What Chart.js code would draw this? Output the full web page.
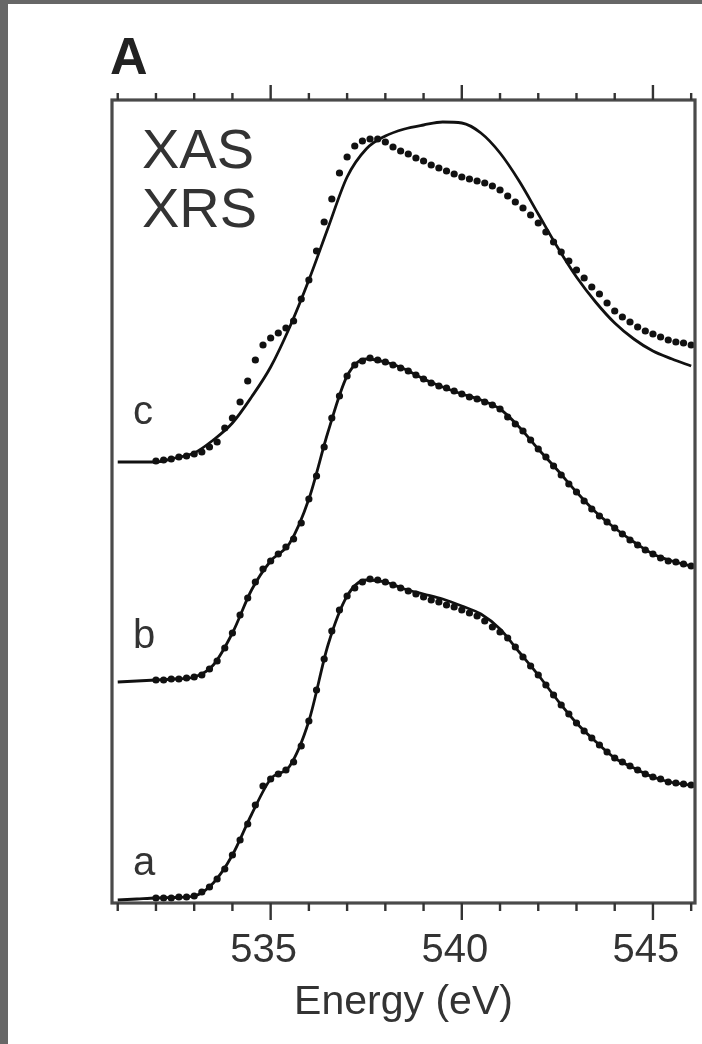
<!DOCTYPE html>
<html><head><meta charset="utf-8">
<script src="https://cdn.jsdelivr.net/npm/chart.js@4"></script>
<style>
html,body{margin:0;padding:0;background:#fff;}
#wrap{position:relative;width:702px;height:1044px;overflow:hidden;background:#fff;}
#chart{position:absolute;left:0;top:0;}
.strip{position:absolute;background:#676767;}
</style></head>
<body><div id="wrap"><canvas id="chart" width="702" height="1044"></canvas>
<div class="strip" style="left:0;top:0;width:8px;height:1044px"></div>
<div class="strip" style="left:0;top:0;width:702px;height:4px"></div>
</div>
<script>
// Energy grid of the XAS (solid line) spectra, eV
const xasEnergy = [531.0,531.5,532.0,532.5,533.0,533.5,534.0,534.5,535.0,535.5,536.0,536.5,537.0,537.5,538.0,538.5,539.0,539.5,540.0,540.5,541.0,541.5,542.0,542.5,543.0,543.5,544.0,544.5,545.0,545.5,546.0];
// Energy grid of the XRS (dots) spectra, eV
const xrsEnergy = [532.0,532.2,532.4,532.6,532.8,533.0,533.2,533.4,533.6,533.8,534.0,534.2,534.4,534.6,534.8,535.0,535.2,535.4,535.6,535.8,536.0,536.2,536.4,536.6,536.8,537.0,537.2,537.4,537.6,537.8,538.0,538.2,538.4,538.6,538.8,539.0,539.2,539.4,539.6,539.8,540.0,540.2,540.4,540.6,540.8,541.0,541.2,541.4,541.6,541.8,542.0,542.2,542.4,542.6,542.8,543.0,543.2,543.4,543.6,543.8,544.0,544.2,544.4,544.6,544.8,545.0,545.2,545.4,545.6,545.8,546.0];

// Intensities (arb. units, vertically offset)
const xasA = [0.03,0.04,0.05,0.055,0.07,0.20,0.48,0.885,1.24,1.37,1.82,2.58,3.07,3.23,3.21,3.14,3.09,3.04,2.97,2.89,2.74,2.51,2.28,2.03,1.80,1.615,1.45,1.35,1.26,1.205,1.18];
const xasB = [2.21,2.22,2.23,2.24,2.26,2.38,2.70,3.13,3.42,3.60,4.04,4.71,5.27,5.44,5.41,5.34,5.24,5.16,5.09,5.03,4.94,4.76,4.54,4.33,4.11,3.91,3.75,3.61,3.49,3.42,3.37];
const xasC = [4.41,4.41,4.41,4.45,4.50,4.63,4.80,5.06,5.36,5.76,6.23,6.75,7.26,7.54,7.67,7.74,7.78,7.81,7.80,7.70,7.50,7.22,6.89,6.56,6.26,6.01,5.80,5.64,5.52,5.44,5.37];

const xrsA = [0.05,0.05,0.05,0.06,0.06,0.07,0.11,0.16,0.24,0.34,0.48,0.63,0.79,0.98,1.17,1.24,1.29,1.33,1.41,1.57,1.82,2.13,2.44,2.72,2.93,3.07,3.15,3.21,3.24,3.23,3.21,3.18,3.15,3.12,3.09,3.06,3.03,3.01,2.98,2.96,2.93,2.90,2.87,2.82,2.76,2.71,2.65,2.56,2.46,2.37,2.28,2.18,2.08,1.98,1.89,1.80,1.72,1.65,1.58,1.51,1.45,1.41,1.37,1.33,1.29,1.26,1.24,1.21,1.20,1.19,1.18];
const xrsB = [2.23,2.23,2.24,2.24,2.25,2.26,2.28,2.34,2.42,2.55,2.70,2.88,3.05,3.21,3.34,3.42,3.49,3.56,3.64,3.80,4.04,4.27,4.56,4.85,5.07,5.27,5.38,5.42,5.45,5.43,5.41,5.38,5.35,5.32,5.28,5.24,5.20,5.17,5.15,5.12,5.09,5.06,5.04,5.01,4.98,4.94,4.86,4.79,4.72,4.63,4.54,4.46,4.37,4.28,4.19,4.11,4.02,3.94,3.87,3.81,3.75,3.69,3.63,3.58,3.53,3.49,3.45,3.42,3.41,3.39,3.37];
const xrsC = [4.42,4.43,4.44,4.46,4.47,4.49,4.51,4.56,4.61,4.75,4.85,5.01,5.22,5.43,5.58,5.65,5.70,5.75,5.82,6.04,6.23,6.52,6.81,7.04,7.30,7.46,7.57,7.62,7.64,7.64,7.61,7.56,7.52,7.49,7.45,7.42,7.38,7.35,7.32,7.29,7.26,7.24,7.22,7.20,7.17,7.13,7.07,7.01,6.95,6.88,6.80,6.71,6.61,6.51,6.42,6.33,6.25,6.16,6.09,6.00,5.92,5.86,5.81,5.76,5.72,5.69,5.66,5.63,5.61,5.60,5.58];

// Axis ticks
const tickMarks = [531,532,533,534,535,536,537,538,539,540,541,542,543,544,545,546];
const tickLabels = [535,540,545];
const curveLabels = ['a','b','c'];
const legendTexts = ['XAS','XRS'];

const FONT = '"Liberation Sans", Arial, Helvetica, sans-serif';
const INK = '#111';
const TXT = '#333';

function pts(xs, ys){ return xs.map((x,i)=>({x:x, y:ys[i]})); }
function xasSet(label, ys){
  return {label, data:pts(xasEnergy, ys), showLine:true, borderColor:INK, borderWidth:2.8,
          pointRadius:0, cubicInterpolationMode:'monotone', fill:false, order:2};
}
function xrsSet(label, ys){
  return {label, data:pts(xrsEnergy, ys), showLine:false, pointRadius:3.6, pointStyle:'circle',
          pointBackgroundColor:INK, pointBorderColor:INK, pointBorderWidth:0, order:1};
}

const framePlugin = {
  id:'frame',
  afterDraw(chart){
    const {ctx, chartArea:{left,right,top,bottom}, scales:{x}} = chart;
    ctx.save();
    ctx.strokeStyle = '#4a4a4a';
    ctx.lineWidth = 3.2;
    ctx.strokeRect(left, top, right-left, bottom-top);
    ctx.lineWidth = 2.4;
    ctx.strokeStyle = '#333';
    tickMarks.forEach(e=>{
      const px = x.getPixelForValue(e);
      const major = tickLabels.includes(e);
      ctx.beginPath();
      ctx.moveTo(px, top); ctx.lineTo(px, top - (major?15:7));
      ctx.moveTo(px, bottom); ctx.lineTo(px, bottom + (major?17:8));
      ctx.stroke();
    });
    // panel letter
    ctx.fillStyle = '#222';
    ctx.textBaseline = 'alphabetic';
    ctx.textAlign = 'left';
    ctx.font = 'bold 52px ' + FONT;
    ctx.fillText('A', left - 2, top - 26);
    // legend texts
    ctx.fillStyle = TXT;
    ctx.font = '56px ' + FONT;
    ctx.fillText(legendTexts[0], left + 30, top + 68);
    ctx.fillText(legendTexts[1], left + 30, top + 127);
    // curve labels
    ctx.font = '40px ' + FONT;
    const labY = [875, 648, 424];
    curveLabels.forEach((t,i)=> ctx.fillText(t, left + 21, labY[i]));
    ctx.restore();
  }
};

new Chart(document.getElementById('chart'), {
  type:'scatter',
  data:{datasets:[
    xasSet('XAS a', xasA), xasSet('XAS b', xasB), xasSet('XAS c', xasC),
    xrsSet('XRS a', xrsA), xrsSet('XRS b', xrsB), xrsSet('XRS c', xrsC)
  ]},
  options:{
    responsive:false, animation:false, devicePixelRatio:1,
    layout:{padding:{left:112, right:7, top:100, bottom:0}},
    plugins:{legend:{display:false}, tooltip:{enabled:false}},
    scales:{
      x:{type:'linear', position:'bottom', min:530.85, max:546.1,
         afterBuildTicks: s => { s.ticks = tickLabels.map(v=>({value:v})); },
         afterFit: s => { s.height = 141; s.paddingLeft = 0; s.paddingRight = 0; },
         grid:{display:false, drawTicks:false},
         border:{display:false},
         ticks:{padding:24, labelOffset:-7, color:TXT, autoSkip:false, maxRotation:0,
                font:{family:FONT, size:40}, callback: v => String(v)},
         title:{display:true, text:'Energy (eV)', color:TXT,
                font:{family:FONT, size:41}, padding:{top:0, bottom:17}}
      },
      y:{display:false, min:0, max:8.03}
    }
  },
  plugins:[framePlugin]
});
</script>
</body></html>
